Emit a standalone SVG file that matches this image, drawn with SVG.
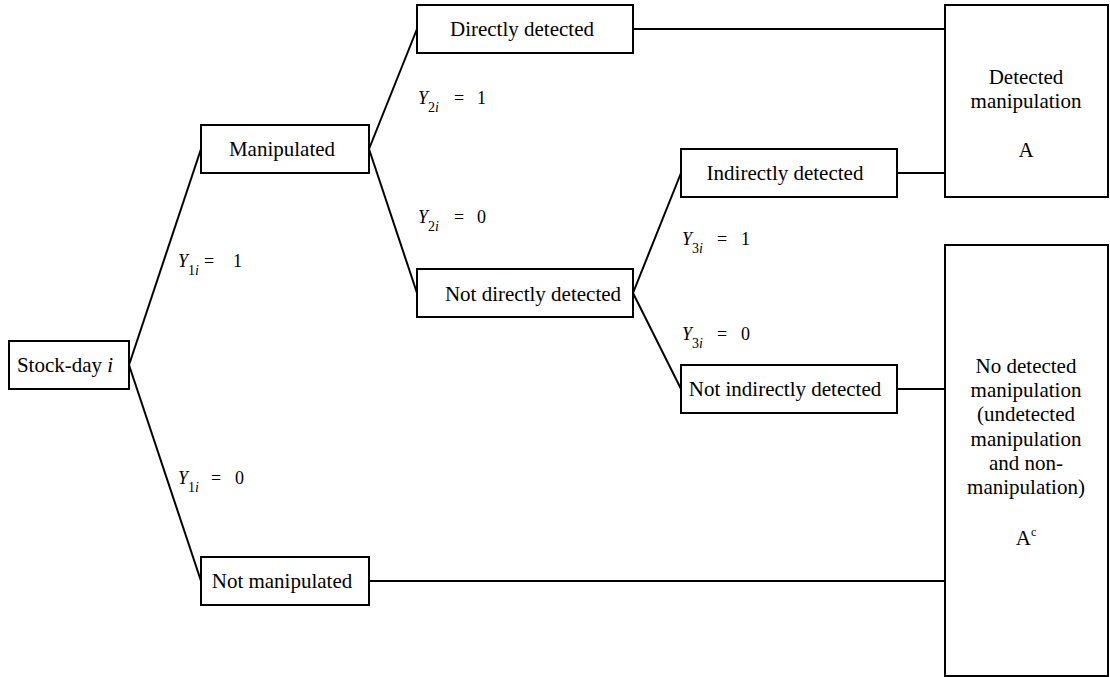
<svg xmlns="http://www.w3.org/2000/svg" width="1110" height="677" viewBox="0 0 1110 677" font-family="Liberation Serif, Times New Roman, serif">
<style>
.box{fill:#fff;stroke:#000;stroke-width:2}
.ln{fill:none;stroke:#000;stroke-width:2}
.t{font-size:21px;fill:#000;text-anchor:middle}
.lab{font-size:18px;fill:#000}
.it{font-style:italic}
.sub{font-size:14px}
</style>
<rect width="1110" height="677" fill="#fff"/>
<g id="connectors">
<line class="ln" x1="129" y1="365" x2="201" y2="149"/>
<line class="ln" x1="129" y1="365" x2="201" y2="581"/>
<line class="ln" x1="369" y1="149" x2="417" y2="29"/>
<line class="ln" x1="369" y1="149" x2="417" y2="293"/>
<line class="ln" x1="633" y1="293" x2="681" y2="173"/>
<line class="ln" x1="633" y1="293" x2="681" y2="389"/>
<line class="ln" x1="633" y1="29" x2="945" y2="29"/>
<line class="ln" x1="897" y1="173" x2="945" y2="173"/>
<line class="ln" x1="897" y1="389" x2="945" y2="389"/>
<line class="ln" x1="369" y1="581" x2="945" y2="581"/>
</g>
<g id="labels">
<text class="lab" font-family="Liberation Serif, serif" x="178" y="267"><tspan class="it">Y</tspan><tspan class="sub" dy="8">1</tspan><tspan class="sub it">i</tspan><tspan x="204" dy="-8">=</tspan><tspan x="233">1</tspan></text>
<text class="lab" font-family="Liberation Serif, serif" x="178" y="484"><tspan class="it">Y</tspan><tspan class="sub" dy="8">1</tspan><tspan class="sub it">i</tspan><tspan x="211" dy="-8">=</tspan><tspan x="235">0</tspan></text>
<text class="lab" font-family="Liberation Serif, serif" x="418" y="104"><tspan class="it">Y</tspan><tspan class="sub" dy="8">2</tspan><tspan class="sub it">i</tspan><tspan x="454" dy="-8">=</tspan><tspan x="477">1</tspan></text>
<text class="lab" font-family="Liberation Serif, serif" x="418" y="223"><tspan class="it">Y</tspan><tspan class="sub" dy="8">2</tspan><tspan class="sub it">i</tspan><tspan x="454" dy="-8">=</tspan><tspan x="477">0</tspan></text>
<text class="lab" font-family="Liberation Serif, serif" x="682" y="245"><tspan class="it">Y</tspan><tspan class="sub" dy="8">3</tspan><tspan class="sub it">i</tspan><tspan x="717" dy="-8">=</tspan><tspan x="741">1</tspan></text>
<text class="lab" font-family="Liberation Serif, serif" x="682" y="340"><tspan class="it">Y</tspan><tspan class="sub" dy="8">3</tspan><tspan class="sub it">i</tspan><tspan x="717" dy="-8">=</tspan><tspan x="741">0</tspan></text>
</g>
<g id="stockday">
<rect class="box" x="9" y="341" width="120" height="48"/>
<text class="t" font-family="Liberation Serif, serif" x="65" y="372">Stock-day <tspan class="it">i</tspan></text>
</g>
<g id="manipulated">
<rect class="box" x="201" y="125" width="168" height="48"/>
<text class="t" font-family="Liberation Serif, serif" x="282" y="156">Manipulated</text>
</g>
<g id="not-manipulated">
<rect class="box" x="201" y="557" width="168" height="48"/>
<text class="t" font-family="Liberation Serif, serif" x="282" y="588">Not manipulated</text>
</g>
<g id="directly-detected">
<rect class="box" x="417" y="5" width="216" height="48"/>
<text class="t" font-family="Liberation Serif, serif" x="522" y="36">Directly detected</text>
</g>
<g id="not-directly-detected">
<rect class="box" x="417" y="269" width="216" height="48"/>
<text class="t" font-family="Liberation Serif, serif" x="533" y="301">Not directly detected</text>
</g>
<g id="indirectly-detected">
<rect class="box" x="681" y="149" width="216" height="48"/>
<text class="t" font-family="Liberation Serif, serif" x="785" y="180">Indirectly detected</text>
</g>
<g id="not-indirectly-detected">
<rect class="box" x="681" y="365" width="216" height="48"/>
<text class="t" font-family="Liberation Serif, serif" x="785" y="396">Not indirectly detected</text>
</g>
<g id="detected-manipulation" font-family="Liberation Serif, serif">
<rect class="box" x="945" y="5" width="163" height="192"/>
<text class="t" x="1026" y="84">Detected</text>
<text class="t" x="1026" y="108">manipulation</text>
<text class="t" x="1026" y="157">A</text>
</g>
<g id="no-detected-manipulation" font-family="Liberation Serif, serif">
<rect class="box" x="945" y="245" width="163" height="431"/>
<text class="t" x="1026" y="373">No detected</text>
<text class="t" x="1026" y="397">manipulation</text>
<text class="t" x="1026" y="421">(undetected</text>
<text class="t" x="1026" y="446">manipulation</text>
<text class="t" x="1026" y="470">and non-</text>
<text class="t" x="1026" y="494">manipulation)</text>
<text class="t" x="1026" y="545">A<tspan font-size="12" dy="-9">c</tspan></text>
</g>
</svg>
